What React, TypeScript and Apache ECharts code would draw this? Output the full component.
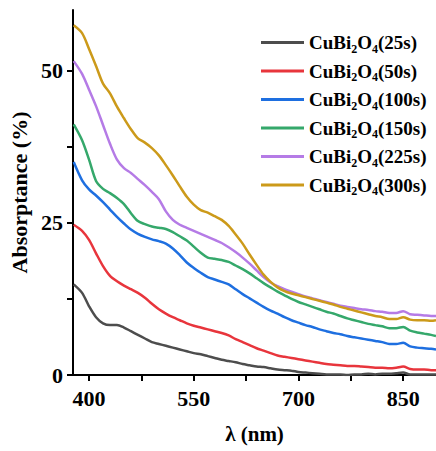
import React, { useEffect, useRef } from "react";
import * as echarts from "echarts";

// Wavelength grid (nm) shared by all spectra
const wavelengths = [
  378, 390, 400, 410, 420, 430, 440, 450, 460, 470, 480, 490, 500, 510, 520, 530,
  540, 550, 560, 570, 580, 590, 600, 610, 620, 630, 640, 650, 660, 670, 680, 690,
  700, 710, 720, 730, 740, 750, 760, 770, 780, 790, 800, 810, 820, 830, 840, 850,
  860, 870, 880, 890, 897,
];

// Absorptance (%) for each deposition time
const abs25s = [
  14.9, 13.5, 11.3, 9.5, 8.5, 8.2, 8.2, 7.8, 7.2, 6.6, 6.0, 5.4, 5.1, 4.8, 4.5, 4.2,
  3.9, 3.6, 3.4, 3.1, 2.8, 2.5, 2.3, 2.1, 1.8, 1.6, 1.4, 1.3, 1.1, 0.9, 0.8, 0.7,
  0.5, 0.4, 0.3, 0.2, 0.1, 0.1, 0.1, 0.0, 0.1, 0.1, 0.2, 0.1, 0.2, 0.2, 0.3, 0.4,
  0.1, 0.1, 0.1, 0.1, 0.1,
];
const abs50s = [
  24.7, 23.7, 22.2, 20.0, 17.9, 16.3, 15.4, 14.7, 14.1, 13.5, 12.7, 11.7, 10.8, 10.1, 9.5, 9.0,
  8.5, 8.1, 7.8, 7.5, 7.2, 6.9, 6.5, 5.9, 5.4, 4.9, 4.4, 4.0, 3.6, 3.2, 3.0, 2.8,
  2.6, 2.4, 2.2, 2.0, 1.8, 1.7, 1.6, 1.5, 1.5, 1.4, 1.3, 1.2, 1.2, 1.1, 1.2, 1.4,
  1.0, 0.9, 0.9, 0.8, 0.8,
];
const abs100s = [
  35.0, 32.0, 30.5, 29.5, 28.4, 27.2, 26.0, 24.9, 23.9, 23.2, 22.7, 22.3, 22.0, 21.6, 20.8, 19.7,
  18.5, 17.6, 16.8, 16.1, 15.7, 15.3, 14.9, 14.1, 13.3, 12.6, 11.9, 11.2, 10.6, 10.1, 9.5, 9.0,
  8.6, 8.2, 7.9, 7.5, 7.2, 6.9, 6.7, 6.4, 6.2, 6.0, 5.8, 5.6, 5.4, 5.1, 5.1, 5.3,
  4.7, 4.5, 4.4, 4.3, 4.2,
];
const abs150s = [
  41.2, 38.6, 35.4, 31.9, 30.6, 29.9, 29.1, 28.1, 26.6, 25.3, 24.8, 24.4, 24.2, 24.0, 23.5, 22.8,
  22.1, 21.1, 20.1, 19.3, 19.1, 18.9, 18.6, 18.0, 17.4, 16.7, 15.9, 15.1, 14.4, 13.7, 13.1, 12.5,
  12.0, 11.6, 11.2, 10.8, 10.4, 10.1, 9.7, 9.3, 9.0, 8.7, 8.4, 8.2, 8.0, 7.7, 7.7, 7.9,
  7.3, 7.0, 6.8, 6.6, 6.4,
];
const abs225s = [
  51.6, 49.5, 46.9, 44.2, 41.1, 38.0, 35.4, 34.0, 33.2, 32.2, 31.2, 30.1, 28.9, 26.9, 25.5, 24.7,
  24.2, 23.7, 23.2, 22.7, 22.2, 21.7, 21.0, 20.2, 19.3, 18.3, 17.2, 16.1, 15.2, 14.6, 14.1, 13.7,
  13.3, 12.9, 12.6, 12.3, 12.0, 11.7, 11.4, 11.2, 11.0, 10.8, 10.7, 10.5, 10.4, 10.2, 10.2, 10.5,
  10.0, 9.9, 9.8, 9.7, 9.7,
];
const abs300s = [
  57.5, 56.2, 53.6, 50.8, 47.9, 46.3, 44.1, 42.2, 40.4, 38.9, 38.2, 37.3, 36.1, 34.5, 32.8, 31.0,
  29.3, 28.0, 27.1, 26.7, 26.1, 25.5, 24.5, 23.1, 21.6, 19.8, 18.1, 16.5, 15.3, 14.4, 13.8, 13.4,
  13.1, 12.8, 12.5, 12.2, 11.9, 11.6, 11.2, 10.9, 10.6, 10.3, 10.0, 9.7, 9.5, 9.2, 9.2, 9.5,
  9.1, 9.0, 9.0, 8.9, 9.0,
];

const seriesNames = ["25s", "50s", "100s", "150s", "225s", "300s"];
const seriesValues = [abs25s, abs50s, abs100s, abs150s, abs225s, abs300s];
const seriesColors = ["#4d4d4d", "#e8353c", "#1e6fe0", "#35a86b", "#b57be6", "#cc9a1a"];

const xTickLabels = [400, 550, 700, 850];
const xTicks = [400, 475, 550, 625, 700, 775, 850];
const yTickLabels = [0, 25, 50];
const yTicks = [0, 12.5, 25, 37.5, 50];

const FONT = "'Liberation Serif', 'Times New Roman', serif";

const legendLabel = (name: string) => `{a|CuBi}{s|2}{a|O}{s|4}{a|(${name})}`;

export default function App() {
  const ref = useRef<HTMLDivElement>(null);

  useEffect(() => {
    if (!ref.current) return;
    const chart = echarts.init(ref.current, null, { renderer: "svg" });

    const series = seriesNames.map((name, i) => ({
      name: legendLabel(name),
      type: "line",
      data: wavelengths.map((w, j) => [w, seriesValues[i][j]]),
      showSymbol: false,
      symbol: "none",
      smooth: 0.3,
      lineStyle: { color: seriesColors[i], width: 2.5 },
      itemStyle: { color: seriesColors[i] },
      z: 2 + i,
    }));

    chart.setOption({
      animation: false,
      backgroundColor: "#ffffff",
      grid: { left: 73, right: 0, top: 10, bottom: 76, containLabel: false },
      legend: {
        orient: "vertical",
        left: 256,
        top: 28,
        itemWidth: 43,
        itemHeight: 14,
        itemGap: 7,
        icon: "path://M0,0 L42,0 L42,3 L0,3 Z",
        data: seriesNames.map((n) => legendLabel(n)),
        formatter: (n: string) => n,
        textStyle: {
          fontFamily: FONT,
          fontWeight: "bold",
          fontSize: 19,
          color: "#000",
          rich: {
            a: { fontFamily: FONT, fontWeight: "bold", fontSize: 19, lineHeight: 24, color: "#000" },
            s: {
              fontFamily: FONT,
              fontWeight: "bold",
              fontSize: 12,
              lineHeight: 12,
              verticalAlign: "bottom",
              color: "#000",
            },
          },
        },
      },
      xAxis: {
        type: "value",
        min: 377,
        max: 897,
        name: "λ (nm)",
        nameLocation: "middle",
        nameGap: 48,
        nameTextStyle: { fontFamily: FONT, fontWeight: "bold", fontSize: 21, color: "#000" },
        axisLine: { show: true, lineStyle: { color: "#000", width: 2 } },
        axisTick: { show: true, length: 6, lineStyle: { color: "#000", width: 2 }, customValues: xTicks },
        axisLabel: {
          fontFamily: FONT,
          fontWeight: "bold",
          fontSize: 22,
          color: "#000",
          margin: 12,
          customValues: xTickLabels,
        },
        splitLine: { show: false },
      },
      yAxis: {
        type: "value",
        min: 0,
        max: 60,
        name: "Absorptance (%)",
        nameLocation: "middle",
        nameGap: 36,
        nameTextStyle: { fontFamily: FONT, fontWeight: "bold", fontSize: 22, color: "#000" },
        axisLine: { show: true, lineStyle: { color: "#000", width: 2 } },
        axisTick: { show: true, length: 6, lineStyle: { color: "#000", width: 2 }, customValues: yTicks },
        axisLabel: {
          fontFamily: FONT,
          fontWeight: "bold",
          fontSize: 22,
          color: "#000",
          margin: 10,
          customValues: yTickLabels,
        },
        splitLine: { show: false },
      },
      series,
    });

    return () => chart.dispose();
  }, []);

  return <div ref={ref} style={{ width: 436, height: 451, position: "absolute", left: 0, top: 0 }} />;
}
